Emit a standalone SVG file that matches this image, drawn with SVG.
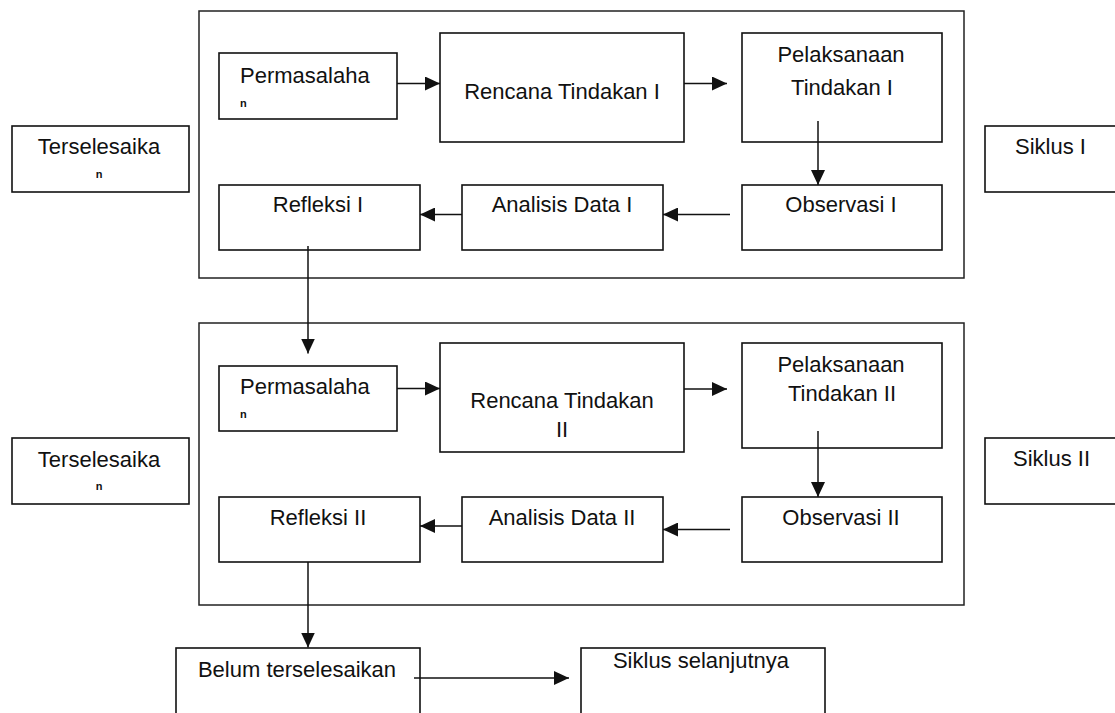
<svg xmlns="http://www.w3.org/2000/svg" width="1115" height="713" viewBox="0 0 1115 713">
<style>
.box{fill:#fff;stroke:#111;stroke-width:1.6}
.frame{fill:none;stroke:#222;stroke-width:1.5}
.ln{fill:none;stroke:#111;stroke-width:1.5}
text{font-family:"Liberation Sans",Arial,sans-serif;font-size:22px;fill:#111}
.c{text-anchor:middle}
.sm{font-size:11px;font-weight:bold}
</style>
<defs>
<marker id="ah" viewBox="0 0 15 14" refX="15" refY="7" markerWidth="15" markerHeight="14" markerUnits="userSpaceOnUse" orient="auto">
<path d="M0,0 L15,7 L0,14 z" fill="#111"/>
</marker>
</defs>
<rect width="1115" height="713" fill="#fff"/>
<g id="frame1"><rect class="frame" x="199" y="11" width="765" height="267"/></g>
<g id="frame2"><rect class="frame" x="199" y="323" width="765" height="282"/></g>

<g id="terselesaikan1"><rect class="box" x="12" y="126" width="177" height="66"/><text class="c" x="99" y="154">Terselesaika</text><text class="sm c" x="99" y="178">n</text></g>
<g id="permasalahan1"><rect class="box" x="219" y="53" width="178" height="66"/><text x="240" y="82.5">Permasalaha</text><text class="sm" x="240" y="107">n</text></g>
<g id="rencana1"><rect class="box" x="440" y="33" width="244" height="109"/><text class="c" x="562" y="99">Rencana Tindakan I</text></g>
<g id="pelaksanaan1"><rect class="box" x="742" y="33" width="200" height="109"/><text class="c" x="841" y="61.5">Pelaksanaan</text><text class="c" x="842" y="94.5">Tindakan I</text></g>
<g id="siklus1"><rect class="box" x="985" y="126" width="140" height="66"/><text x="1015" y="154">Siklus I</text></g>
<g id="refleksi1"><rect class="box" x="219" y="185" width="201" height="65"/><text class="c" x="318" y="212">Refleksi I</text></g>
<g id="analisis1"><rect class="box" x="462" y="185" width="201" height="65"/><text class="c" x="562" y="212">Analisis Data I</text></g>
<g id="observasi1"><rect class="box" x="742" y="185" width="200" height="65"/><text class="c" x="841" y="212">Observasi I</text></g>

<g id="terselesaikan2"><rect class="box" x="12" y="438" width="177" height="66"/><text class="c" x="99" y="466.5">Terselesaika</text><text class="sm c" x="99" y="490">n</text></g>
<g id="permasalahan2"><rect class="box" x="219" y="366" width="178" height="65"/><text x="240" y="394">Permasalaha</text><text class="sm" x="240" y="418">n</text></g>
<g id="rencana2"><rect class="box" x="440" y="343" width="244" height="109"/><text class="c" x="562" y="407.5">Rencana Tindakan</text><text class="c" x="562" y="436.5">II</text></g>
<g id="pelaksanaan2"><rect class="box" x="742" y="343" width="200" height="105"/><text class="c" x="841" y="371.5">Pelaksanaan</text><text class="c" x="842" y="400.5">Tindakan II</text></g>
<g id="siklus2"><rect class="box" x="985" y="438" width="140" height="66"/><text x="1013" y="466">Siklus II</text></g>
<g id="refleksi2"><rect class="box" x="219" y="497" width="201" height="65"/><text class="c" x="318" y="525">Refleksi II</text></g>
<g id="analisis2"><rect class="box" x="462" y="497" width="201" height="65"/><text class="c" x="562" y="525">Analisis Data II</text></g>
<g id="observasi2"><rect class="box" x="742" y="497" width="200" height="65"/><text class="c" x="841" y="525">Observasi II</text></g>

<g id="belum"><rect class="box" x="176" y="648" width="244" height="80"/><text class="c" x="297" y="676.5">Belum terselesaikan</text></g>
<g id="selanjutnya"><rect class="box" x="581" y="648" width="244" height="80"/><text class="c" x="701" y="668">Siklus selanjutnya</text></g>

<g id="connectors">
<line class="ln" x1="397" y1="83.5" x2="440" y2="83.5" marker-end="url(#ah)"/>
<line class="ln" x1="684" y1="83.5" x2="727" y2="83.5" marker-end="url(#ah)"/>
<line class="ln" x1="818" y1="121" x2="818" y2="185" marker-end="url(#ah)"/>
<line class="ln" x1="730" y1="214.5" x2="663" y2="214.5" marker-end="url(#ah)"/>
<line class="ln" x1="462" y1="214.5" x2="420" y2="214.5" marker-end="url(#ah)"/>
<line class="ln" x1="308" y1="246" x2="308" y2="353.5" marker-end="url(#ah)"/>
<line class="ln" x1="397" y1="388.5" x2="440" y2="388.5" marker-end="url(#ah)"/>
<line class="ln" x1="684" y1="389" x2="727" y2="389" marker-end="url(#ah)"/>
<line class="ln" x1="818" y1="431" x2="818" y2="497" marker-end="url(#ah)"/>
<line class="ln" x1="730" y1="529.5" x2="663" y2="529.5" marker-end="url(#ah)"/>
<line class="ln" x1="462" y1="526" x2="420" y2="526" marker-end="url(#ah)"/>
<line class="ln" x1="308" y1="562" x2="308" y2="647.5" marker-end="url(#ah)"/>
<line class="ln" x1="414" y1="678" x2="569" y2="678" marker-end="url(#ah)"/>
</g>
</svg>
